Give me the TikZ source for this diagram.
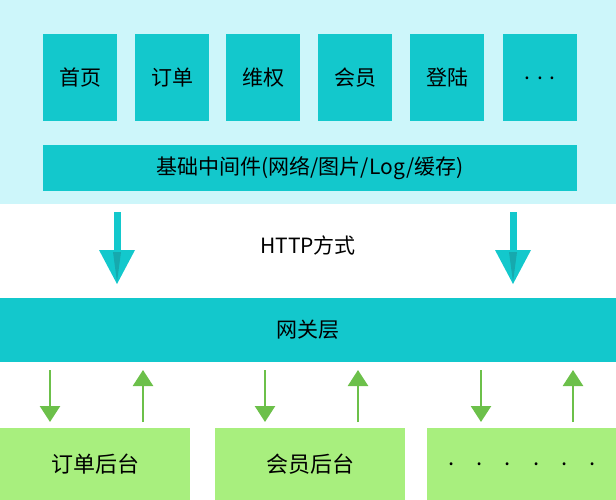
\documentclass[tikz,border=0pt]{standalone}
\usepackage{fontspec}
\setmainfont{Noto Sans CJK SC}
\usetikzlibrary{positioning,arrows.meta}
\definecolor{bandbg}{HTML}{CDF6FA}
\definecolor{tealbox}{HTML}{13C8CC}
\definecolor{tealdark}{HTML}{16A9AE}
\definecolor{greenbox}{HTML}{A8EF7E}
\definecolor{greenarr}{HTML}{6CC04A}
\begin{document}
\begin{tikzpicture}[x=1pt,y=-1pt]

\tikzset{
module/.style={fill=tealbox,minimum width=74pt,minimum height=87pt,inner sep=0pt,font=\fontsize{21pt}{25pt}\selectfont},
bar/.style={fill=tealbox,inner sep=0pt,font=\fontsize{21pt}{25pt}\selectfont},
backend/.style={fill=greenbox,minimum width=190pt,minimum height=72pt,inner sep=0pt,font=\fontsize{22pt}{26pt}\selectfont},
flow/.style={draw=greenarr,line width=2.5pt,-{Triangle[length=16pt,width=20pt]}}
}
\useasboundingbox (0,0) rectangle (616,500);
% top band
\fill[bandbg] (0,0) rectangle (616,204);
% modules
\node[module] (m1) at (80,78)  {首页};
\node[module] (m2) at (172,78) {订单};
\node[module] (m3) at (263,78) {维权};
\node[module] (m4) at (355,78) {会员};
\node[module] (m5) at (447,78) {登陆};
\node[module] (m6) at (540,78) {. . .};
\node[bar,minimum width=534pt,minimum height=45pt] (mid) at (310,168) {基础中间件(网络/图片/Log/缓存)};

% http arrows
\foreach \x/\n in {117/ha,513/hb}{
  \coordinate (\n) at (\x,248);
  \fill[tealbox] (\x-3.5,212) rectangle (\x+3.5,250);
  \fill[tealbox] (\x-18,250) -- (\x+18,250) -- (\x,284) -- cycle;
  \fill[tealdark] (\x-4,252) -- (\x+4,252) -- (\x,282) -- cycle;
}
\node[font=\fontsize{21pt}{25pt}\selectfont] (http) at (308,245) {HTTP方式};

% gateway
\node[bar,minimum width=616pt,minimum height=64pt] (gw) at (308,330) {网关层};

% backends
\node[backend] (b1) at (95,464)  {订单后台};
\node[backend] (b2) at (310,464) {会员后台};
\node[backend] (b3) at (522,464) {.\quad.\quad.\quad.\quad.\quad.};

% up/down arrows
\foreach \d/\u in {50/143,265/358,481/573}{
  \coordinate (d1) at (\d,370);
  \coordinate (d2) at (\d,422);
  \coordinate (u1) at (\u,422);
  \coordinate (u2) at (\u,370);
  \draw[flow] (d1) -- (d2);
  \draw[flow] (u1) -- (u2);
}

\end{tikzpicture}
\end{document}
